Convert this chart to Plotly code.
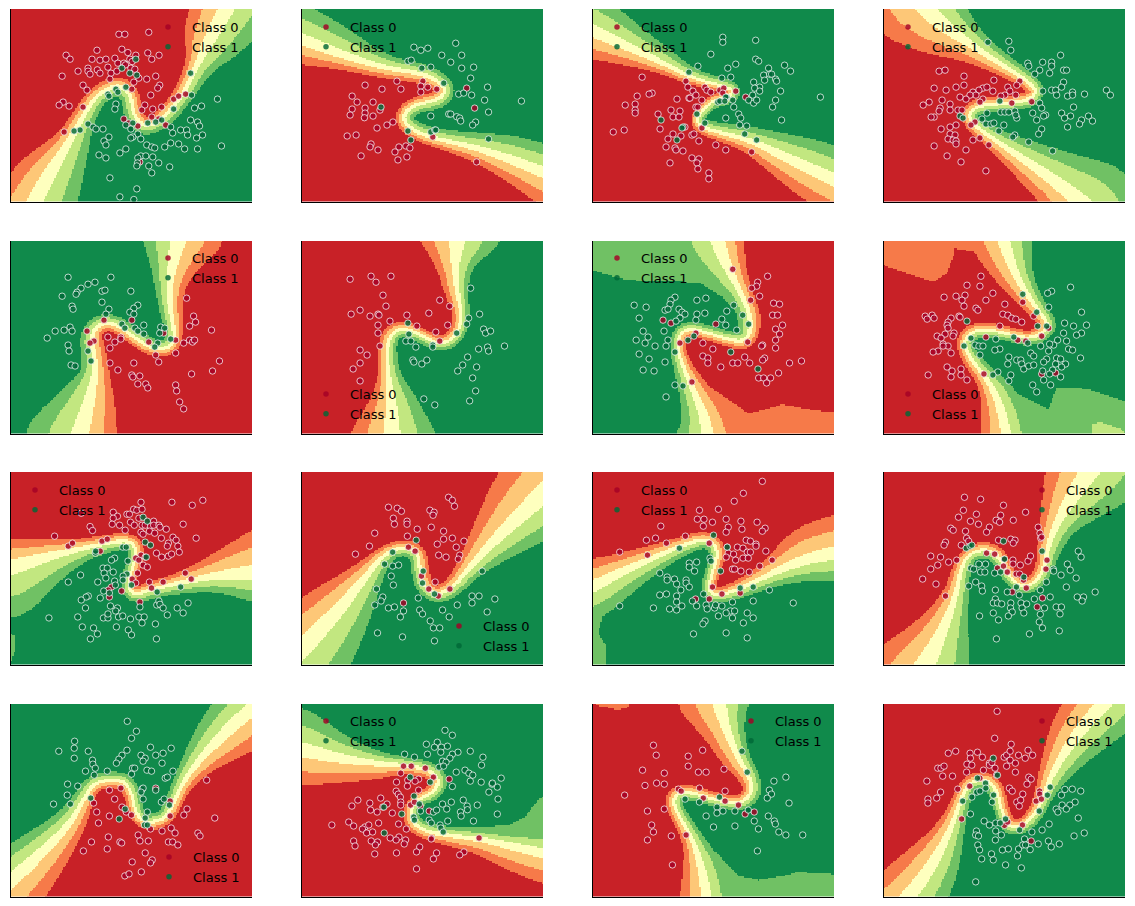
import numpy as np
import plotly.graph_objects as go

BAND_COLORS = ["#c82127", "#f67a49", "#fdc777", "#feffbe", "#c2e780", "#70c164", "#108a4b"]
SERIES = ["Class 0", "Class 1"]
DOT_COLORS = ["rgba(165,0,38,0.82)", "rgba(0,104,55,0.82)"]

FRAME_S = (30, 756)
FRAME_A = (30, 716)
FRAME_B = (855, 1541)

# decision boundary centre line: (x, y, band width on class 0 side, band width on class 1 side)
P1_LINE = [(85,640,43,50),(98,606,43,50),(150,510,32,40),(200,430,14,26),(240,360,10,14),(280,295,9,10),(320,265,8,10),(360,255,8,10),(392,285,8,10),(398,340,8,9),(425,378,7,9),(470,368,8,9),(510,330,8,10),(550,280,9,10),(590,190,10,18),(620,130,30,35),(675,27,40,50),(690,0,40,50)]
P1_RED = [(690,-300),(-300,-300),(-300,640)]
P1_PATCH = []
P1_C0 = [(355,103),(373,103),(445,97),(196,166),(208,178),(289,151),(364,148),(382,158),(406,166),(442,159),(454,178),(476,166),(274,178),(298,181),(316,178),(343,175),(352,190),(370,190),(388,178),(395,185),(375,195),(391,205),(403,208),(322,202),(232,214),(262,205),(262,214),(268,223),(290,210),(298,220),(331,220),(349,214),(184,229),(328,238),(415,235),(400,247),(439,238),(466,229),(247,256),(259,271),(394,268),(478,256),(472,265),(451,286),(187,307),(175,316),(205,319),(247,322),(433,316),(424,331),(457,328),(484,322),(520,298),(535,289),(556,283),(454,352),(370,358),(385,370),(412,379),(475,358),(496,376),(190,397),(418,487)]
P1_C1 = [(406,178),(364,205),(388,220),(409,226),(571,220),(376,262),(346,268),(352,277),(322,283),(325,289),(574,286),(652,298),(346,313),(343,328),(583,325),(604,319),(520,328),(571,361),(592,367),(598,379),(397,370),(376,376),(391,388),(442,370),(466,367),(484,361),(511,382),(262,373),(277,382),(286,388),(307,388),(238,391),(220,394),(541,391),(559,391),(562,406),(517,400),(607,406),(589,415),(412,403),(397,412),(391,415),(421,418),(325,412),(310,424),(316,436),(439,436),(454,442),(463,445),(493,442),(511,430),(535,433),(553,448),(592,448),(664,439),(376,448),(358,460),(295,466),(316,475),(421,469),(436,469),(457,472),(412,475),(475,490),(411,490),(409,499),(445,499),(508,502),(454,520),(328,535),(409,568),(358,592),(400,600)]

P2_LINE = [(-20,105,28,38),(30,120,28,38),(150,168,14,30),(280,205,10,12),(400,222,9,10),(455,255,8,9),(462,280,8,9),(430,302,7,9),(375,312,7,8),(335,340,7,9),(340,372,7,9),(385,402,7,9),(470,425,9,11),(560,445,14,17),(660,480,22,28),(770,520,35,30)]
P2_RED = [(770,900),(-300,900)]
P2_PATCH = []
P2_C0 = [(316,244),(394,244),(220,256),(271,268),(328,268),(388,259),(409,262),(436,268),(388,277),(181,289),(196,307),(244,307),(220,325),(181,328),(265,331),(220,340),(175,346),(244,349),(218,354),(304,367),(286,376),(256,385),(166,409),(193,406),(424,412),(238,433),(235,442),(259,451),(322,442),(343,439),(355,445),(310,457),(208,469),(346,472),(319,481),(556,487),(526,265),(550,325)]
P2_C1 = [(367,142),(388,151),(409,145),(493,130),(451,166),(511,166),(478,187),(349,184),(359,181),(391,205),(418,202),(511,205),(547,202),(538,235),(457,250),(589,262),(502,283),(517,280),(541,286),(580,301),(691,304),(268,322),(592,337),(418,349),(472,343),(478,343),(496,351),(505,355),(508,364),(553,367),(544,376),(349,394),(418,397),(430,391),(433,391),(358,421),(592,418)]

P3_LINE = [(-20,75,32,40),(30,95,32,40),(130,140,20,28),(240,190,10,16),(330,235,6,8),(425,260,5,7),(452,270,5,7),(440,290,5,7),(395,300,5,6),(360,330,5,6),(340,360,5,6),(358,382,6,7),(420,400,8,10),(500,420,12,14),(590,462,22,24),(680,505,32,34),(770,545,38,36)]
P3_RED = [(770,900),(-300,900)]
P3_PATCH = []
P3_C0 = [(178,232),(310,244),(316,262),(367,262),(373,271),(385,277),(412,271),(424,265),(421,280),(331,274),(340,286),(460,274),(490,292),(208,280),(199,283),(163,289),(283,298),(319,295),(322,295),(358,301),(127,316),(157,313),(157,331),(157,340),(265,331),(292,334),(340,322),(346,322),(226,343),(271,352),(289,352),(232,388),(91,397),(124,391),(307,382),(358,385),(271,403),(256,418),(295,409),(328,406),(334,403),(349,424),(250,442),(277,445),(280,451),(301,454),(400,436),(430,451),(508,457),(328,475),(349,478),(343,490),(262,490),(346,508),(379,520),(379,538)]
P3_C1 = [(421,112),(421,127),(520,121),(385,163),(520,178),(529,184),(460,193),(436,205),(346,199),(607,196),(625,214),(559,205),(544,226),(562,223),(568,223),(319,217),(418,235),(445,232),(547,241),(580,238),(583,244),(514,247),(532,262),(517,265),(532,274),(595,274),(511,286),(580,301),(715,292),(433,292),(430,292),(451,301),(406,307),(412,304),(427,304),(499,301),(514,310),(523,301),(454,322),(571,322),(343,343),(469,343),(475,355),(430,355),(598,361),(235,361),(367,370),(472,376),(493,379),(301,382),(298,385),(487,403),(283,421),(523,421)]

P4_LINE = [(130,-10,58,50),(160,27,55,48),(200,70,40,38),(300,140,18,16),(400,205,9,11),(465,245,7,8),(490,275,7,8),(468,300,7,7),(400,310,6,7),(320,315,7,7),(283,340,7,7),(300,375,7,8),(370,425,10,12),(460,485,20,24),(550,550,28,40),(620,610,38,60),(650,640,38,60)]
P4_RED = [(650,900),(-300,900),(-300,-10)]
P4_PATCH = []
P4_C0 = [(196,214),(214,211),(271,229),(361,241),(439,244),(430,256),(247,262),(271,256),(181,265),(217,271),(328,265),(340,262),(316,271),(358,274),(403,262),(409,274),(394,286),(382,289),(427,286),(298,277),(307,286),(289,286),(259,292),(205,301),(166,307),(148,316),(229,313),(277,298),(328,298),(319,307),(415,310),(475,306),(199,325),(196,334),(229,331),(253,331),(265,331),(181,352),(172,352),(304,367),(292,376),(247,376),(229,382),(202,388),(229,403),(244,406),(223,418),(238,421),(247,424),(247,433),(298,421),(319,415),(346,436),(181,439),(277,451),(220,469),(262,487),(337,514)]
P4_C1 = [(343,127),(406,124),(412,151),(562,166),(508,187),(535,187),(535,199),(463,190),(466,199),(499,211),(484,223),(529,220),(571,211),(580,211),(571,247),(565,262),(535,271),(547,271),(508,274),(550,286),(583,289),(598,277),(598,286),(634,283),(700,271),(712,286),(379,304),(499,310),(505,325),(601,322),(424,334),(340,340),(382,337),(394,337),(406,337),(478,340),(565,340),(592,349),(574,355),(517,346),(511,349),(430,355),(427,346),(646,349),(658,364),(625,361),(619,373),(490,361),(259,349),(268,355),(325,358),(337,373),(352,373),(361,370),(391,376),(583,382),(505,388),(376,394),(496,403),(424,406),(418,412),(466,427),(538,454)]

P5_LINE = [(545,-10,48,45),(532,27,48,45),(515,100,28,25),(505,170,16,14),(510,240,12,10),(522,300,8,8),(518,335,7,8),(490,352,7,8),(445,345,7,8),(400,315,7,8),(360,285,7,8),(320,270,7,8),(285,285,8,9),(272,320,11,12),(280,365,12,12),(285,420,14,14),(270,500,28,35),(243,606,42,62),(235,640,42,62)]
P5_RED = [(235,900),(1100,900),(1100,-10)]
P5_PATCH = []
P5_C0 = [(310,265),(394,265),(259,298),(559,199),(580,253),(586,271),(568,283),(634,295),(490,304),(322,316),(361,316),(361,322),(343,331),(328,349),(280,328),(268,334),(445,331),(526,325),(550,334),(568,325),(577,331),(583,325),(526,364),(466,370),(475,391),(328,394),(400,394),(352,415),(658,388),(637,418),(574,427),(394,430),(397,436),(418,433),(412,457),(436,457),(442,469),(526,460),(529,478),(538,511),(550,532)]
P5_C1 = [(202,136),(331,136),(283,151),(262,157),(241,169),(229,181),(226,187),(184,193),(304,178),(313,175),(391,178),(304,211),(214,223),(217,232),(325,232),(412,220),(400,229),(388,241),(400,247),(316,247),(364,277),(373,289),(403,289),(412,298),(430,280),(430,307),(481,286),(493,289),(478,304),(190,295),(208,286),(214,298),(163,298),(139,319),(202,340),(205,358),(262,358),(271,388),(211,400),(223,403),(511,322),(472,334),(463,346)]

P6_LINE = [(498,-10,46,50),(496,27,46,50),(490,100,20,20),(498,180,13,9),(510,240,8,8),(505,290,7,7),(480,325,7,7),(440,335,6,7),(400,315,6,7),(360,295,6,7),(320,290,7,7),(290,320,9,8),(285,380,8,10),(290,440,10,14),(300,520,28,32),(300,606,48,52),(300,640,48,52)]
P6_RED = [(300,900),(-300,900),(-300,-10)]
P6_PATCH = []
P6_C0 = [(175,142),(238,133),(253,151),(298,133),(274,190),(445,205),(475,223),(283,223),(205,235),(178,247),(235,253),(259,247),(262,250),(346,250),(412,244),(295,268),(259,280),(376,283),(469,280),(259,304),(433,301),(445,328),(265,343),(205,355),(226,370),(205,394),(184,412),(205,448)]
P6_C1 = [(538,169),(532,259),(565,247),(526,277),(349,274),(352,307),(496,304),(577,292),(583,304),(598,298),(343,328),(358,328),(373,346),(424,340),(424,346),(562,352),(589,346),(592,358),(640,343),(529,376),(364,385),(367,391),(391,397),(406,385),(514,400),(499,418),(556,406),(544,439),(553,478),(535,508),(397,502),(430,520)]

P7_LINE = [(405,-10,30,53),(410,27,30,53),(440,110,18,30),(478,190,11,10),(505,250,10,14),(505,305,8,11),(480,330,8,8),(430,320,6,7),(380,305,6,7),(330,290,6,6),(295,300,7,7),(283,345,7,7),(300,400,8,9),(330,470,15,14),(365,550,28,26),(375,606,35,38),(380,640,35,38)]
P7_RED = [(380,900),(1100,900),(1100,-10)]
P7_PATCH = [([(0,0),(30,115),(130,145),(350,152),(420,195),(460,240),(500,240),(500,0)],6,5),([(345,440),(420,490),(500,545),(600,517),(700,535),(800,545),(800,650),(345,650)],0,1)]
P7_C0 = [(451,112),(556,133),(526,151),(523,163),(508,169),(532,193),(505,205),(574,214),(592,217),(571,250),(586,250),(601,280),(580,292),(592,307),(241,265),(265,274),(400,277),(340,304),(292,334),(361,334),(496,331),(580,325),(541,340),(538,343),(580,349),(391,352),(361,373),(376,379),(376,394),(487,376),(547,379),(541,385),(622,394),(658,388),(415,406),(451,394),(466,394),(502,394),(589,424),(529,439),(544,439),(565,439),(553,454),(328,451)]
P7_C1 = [(277,196),(265,205),(262,217),(154,220),(190,226),(343,205),(370,199),(247,235),(256,232),(289,232),(298,241),(307,247),(343,247),(367,244),(454,220),(433,238),(481,250),(169,259),(292,259),(280,268),(340,265),(418,262),(430,280),(499,277),(244,298),(463,295),(181,298),(196,316),(160,325),(187,334),(256,325),(217,343),(250,343),(316,325),(334,313),(277,361),(445,361),(169,367),(199,382),(247,391),(181,415),(214,418),(527,412),(277,460),(301,463),(250,496)]

P8_LINE = [(385,-10,37,35),(390,27,37,35),(420,110,25,20),(450,170,16,14),(490,230,9,9),(525,275,8,8),(515,300,7,7),(470,320,6,7),(420,310,6,6),(360,295,6,6),(300,295,7,7),(268,330,7,7),(290,380,8,8),(340,440,10,12),(375,510,18,25),(400,606,30,28),(400,640,30,28)]
P8_RED = [(400,900),(-300,900),(-300,-10)]
P8_PATCH = [([(0,100),(30,100),(100,125),(180,150),(220,125),(240,70),(240,50),(300,60),(345,80),(400,100),(400,0),(0,0)],0,1),([(350,430),(430,485),(525,532),(550,465),(640,470),(760,510),(800,520),(800,650),(350,650)],6,5),([(655,575),(680,570),(740,590),(756,606),(655,610)],5,4)]
P8_C0 = [(322,133),(280,160),(319,163),(211,196),(247,193),(274,190),(265,205),(271,223),(358,184),(337,205),(307,229),(313,235),(394,217),(448,211),(154,253),(160,262),(175,250),(181,259),(232,259),(256,253),(259,256),(388,247),(403,250),(415,259),(427,262),(445,271),(481,253),(223,271),(220,280),(223,289),(379,283),(241,304),(238,313),(214,307),(190,313),(202,319),(208,337),(223,343),(208,343),(193,358),(178,361),(232,364),(337,316),(433,325),(457,328),(505,313),(526,289),(220,406),(235,418),(262,412),(262,430),(232,436),(280,445),(163,430),(331,427),(505,427),(547,424)]
P8_C1 = [(448,187),(592,166),(535,178),(523,184),(526,226),(490,241),(625,241),(280,268),(493,283),(520,283),(574,274),(601,283),(640,280),(571,304),(625,304),(610,310),(292,319),(367,322),(421,316),(463,334),(271,343),(304,340),(316,343),(328,343),(580,328),(553,325),(541,340),(529,337),(502,343),(526,358),(379,352),(364,355),(586,352),(598,355),(319,370),(622,379),(406,376),(403,397),(430,385),(442,385),(445,397),(451,412),(466,403),(481,400),(472,364),(481,373),(520,382),(511,391),(550,379),(562,382),(547,397),(577,397),(565,406),(373,421),(358,430),(412,430),(406,448),(508,418),(538,415),(529,427),(562,436),(511,445),(532,460),(478,460),(490,481)]

P9_LINE = [(-10,310,30,60),(30,307,30,60),(120,280,18,38),(220,258,9,15),(300,240,7,9),(360,232,7,8),(385,250,7,7),(385,290,6,6),(370,330,6,6),(362,375,6,6),(385,395,6,8),(440,375,7,9),(500,362,9,10),(580,345,18,14),(650,335,32,22),(716,332,50,32),(750,330,50,32)]
P9_RED = [(750,-300),(-300,-300),(-300,310)]
P9_PATCH = [([(30,510),(45,520),(40,570),(30,600),(10,610),(10,510)],6,5)]
P9_C0 = [(230,151),(255,191),(262,203),(154,220),(321,148),(333,160),(360,154),(367,154),(379,139),(388,142),(403,139),(400,118),(488,118),(546,127),(576,112),(321,166),(318,184),(339,187),(355,202),(370,178),(381,187),(394,166),(403,187),(412,187),(427,190),(436,175),(436,187),(424,205),(439,211),(451,187),(454,193),(472,199),(520,184),(400,208),(406,214),(458,226),(491,223),(500,232),(557,226),(478,241),(475,250),(505,250),(289,235),(304,229),(193,250),(205,241),(284,265),(444,271),(459,283),(478,280),(487,274),(509,268),(400,277),(385,286),(394,292),(412,283),(406,307),(418,313),(390,331),(526,331),(543,349),(375,349),(385,361),(424,358),(463,358),(430,376),(345,385),(316,373),(307,382),(310,403),(397,418)]
P9_C1 = [(406,163),(418,175),(412,238),(427,247),(348,253),(358,253),(270,271),(271,265),(415,283),(325,286),(316,292),(363,295),(292,316),(304,316),(295,331),(321,328),(228,337),(360,334),(300,346),(349,340),(193,358),(277,358),(325,355),(349,352),(327,367),(373,367),(513,373),(294,385),(446,388),(310,391),(250,400),(244,403),(284,406),(230,412),(242,436),(313,430),(333,436),(328,445),(397,433),(445,427),(451,415),(454,425),(463,436),(475,457),(503,436),(520,451),(534,421),(138,466),(220,463),(293,466),(306,466),(306,454),(336,463),(348,460),(370,469),(394,463),(409,463),(403,481),(441,484),(233,493),(265,496),(330,493),(364,502),(373,517),(276,514),(256,529),(444,529)]

P10_LINE = [(800,605,46,62),(855,550,46,62),(960,440,35,38),(1040,335,15,17),(1090,272,7,8),(1140,252,7,7),(1185,268,8,7),(1190,320,8,7),(1200,370,8,7),(1240,397,7,8),(1285,372,8,9),(1330,315,12,12),(1400,235,28,25),(1470,165,45,38),(1541,95,57,49),(1610,25,57,49)]
P10_RED = [(1610,-300),(500,-300),(500,605)]
P10_PATCH = []
P10_C0 = [(1272,103),(1283,112),(1289,130),(1101,133),(1126,136),(1138,145),(1219,142),(1231,148),(1228,157),(1115,166),(1118,184),(1154,175),(1154,184),(1223,193),(1183,199),(1258,205),(1062,211),(1155,220),(1258,229),(1283,226),(1316,235),(1240,244),(1047,250),(1158,253),(1294,253),(1177,265),(1007,274),(1244,277),(1265,283),(1304,277),(1300,289),(1195,340),(1234,358),(1276,379),(1216,379),(1243,400),(1144,421)]
P10_C1 = [(1180,232),(1113,268),(1090,304),(1113,310),(1130,307),(1368,325),(1200,325),(1109,340),(1198,361),(1115,367),(1067,379),(1232,394),(1339,400),(1359,400),(1339,421),(1404,409),(1085,403),(1080,415),(1186,406),(1062,427),(1101,436),(1118,433),(1297,427),(1144,445),(1190,442),(1198,454),(1255,442),(1382,448),(1135,463),(1274,463),(1220,475),(1229,496),(1247,496),(1070,511),(1141,523),(1232,535)]

P11_LINE = [(-10,385,32,35),(30,370,32,35),(120,320,18,25),(210,280,12,15),(276,250,8,10),(340,228,7,8),(375,240,7,7),(385,275,7,6),(372,320,6,6),(358,375,6,6),(375,400,6,7),(430,385,7,8),(500,350,10,12),(560,322,20,15),(640,290,38,24),(716,272,42,33),(760,260,42,33)]
P11_RED = [(760,-300),(-300,-300),(-300,385)]
P11_PATCH = [([(20,450),(60,450),(45,510),(70,550),(70,610),(20,610)],6,5)]
P11_C0 = [(512,55),(458,91),(432,115),(387,139),(333,142),(327,169),(346,169),(370,178),(409,169),(451,175),(497,178),(344,190),(415,193),(454,199),(520,196),(512,205),(409,208),(223,190),(293,220),(208,226),(182,232),(239,241),(361,241),(412,253),(466,232),(478,235),(494,244),(494,250),(106,268),(185,277),(415,271),(430,274),(441,253),(457,256),(469,268),(478,268),(522,265),(409,283),(436,292),(457,286),(472,286),(540,292),(505,310),(427,319),(433,319),(451,325),(475,328),(370,373),(397,394),(449,391),(361,409),(322,409)]
P11_C1 = [(373,217),(412,253),(276,256),(363,286),(366,295),(304,301),(325,298),(304,313),(319,325),(220,331),(393,325),(241,343),(241,352),(262,349),(295,352),(295,361),(268,364),(304,373),(280,382),(220,397),(239,394),(268,400),(449,376),(486,373),(532,382),(345,394),(268,418),(106,430),(202,436),(248,439),(268,442),(283,430),(313,415),(325,430),(352,427),(355,439),(376,436),(379,427),(397,430),(427,418),(486,415),(600,421),(421,445),(433,445),(469,451),(409,451),(387,460),(427,466),(486,466),(458,481),(349,475),(343,484),(316,514),(409,511),(469,526)]

P12_LINE = [(945,640,50,60),(970,606,50,60),(1020,510,30,30),(1060,400,12,12),(1075,310,7,8),(1100,272,7,7),(1140,258,7,7),(1180,275,7,7),(1205,330,6,6),(1240,370,6,6),(1280,365,7,7),(1310,320,7,8),(1320,250,9,14),(1345,180,17,20),(1390,100,35,40),(1435,27,48,57),(1470,-20,48,57)]
P12_RED = [(1470,-300),(500,-300),(500,640)]
P12_PATCH = []
P12_C0 = [(1084,103),(1130,109),(1195,127),(1081,142),(1067,163),(1118,154),(1187,157),(1258,148),(1174,172),(1184,178),(1223,172),(1101,175),(1124,184),(1155,193),(1045,196),(1052,202),(1147,208),(1087,205),(1294,193),(1299,211),(1301,226),(1030,238),(1026,247),(1090,226),(1096,235),(1075,247),(1181,232),(1216,229),(1228,232),(1223,241),(1304,223),(988,280),(1016,283),(1039,298),(1062,292),(1008,307),(988,319),(965,349),(1003,364),(1030,400),(1147,271),(1170,274),(1197,289),(1222,292),(1222,304),(1243,307),(1265,295),(1272,280),(1195,310),(1178,316),(1206,328),(1231,334),(1241,334),(1319,292),(1316,319),(1252,352),(1260,376),(1220,388),(1306,406),(1291,433)]
P12_C1 = [(1195,235),(1089,256),(1100,250),(1105,247),(1305,265),(1125,304),(1144,304),(1198,289),(1102,316),(1110,319),(1130,328),(1142,328),(1170,331),(1187,328),(1337,319),(1338,325),(1408,265),(1416,283),(1377,304),(1385,322),(1359,337),(1402,346),(1116,358),(1253,343),(1317,358),(1096,370),(1133,370),(1135,385),(1232,373),(1300,382),(1374,373),(1456,388),(1172,382),(1206,388),(1240,397),(1328,403),(1283,409),(1405,403),(1423,403),(1419,415),(1172,409),(1166,421),(1178,421),(1190,424),(1216,421),(1245,421),(1261,424),(1312,436),(1345,433),(1360,433),(1215,436),(1248,436),(1253,451),(1220,448),(1166,451),(1127,460),(1209,460),(1181,472),(1300,455),(1356,454),(1297,478),(1306,496),(1269,514),(1354,505),(1175,529)]

P13_LINE = [(-10,590,43,35),(30,555,43,35),(120,470,30,26),(200,385,16,16),(240,310,8,10),(265,265,7,8),(310,255,7,8),(355,260,7,8),(375,300,6,7),(385,360,6,7),(420,385,7,7),(470,370,7,7),(495,320,7,8),(520,260,9,9),(570,190,18,18),(640,110,35,30),(716,40,40,38),(760,-5,40,38)]
P13_RED = [(1000,-5),(1000,900),(-10,900)]
P13_PATCH = []
P13_C0 = [(310,286),(343,280),(265,325),(325,313),(274,352),(310,364),(346,337),(358,352),(373,361),(279,385),(427,403),(460,409),(486,400),(497,415),(483,364),(522,361),(531,343),(483,319),(562,415),(568,424),(610,370),(587,256),(442,280),(259,442),(307,427),(340,442),(345,445),(392,421),(397,439),(421,439),(478,442),(490,442),(505,451),(236,469),(304,463),(412,475),(432,496),(427,505),(375,502),(401,532),(354,544),(366,538)]
P13_C1 = [(361,79),(387,109),(373,130),(211,139),(210,160),(166,169),(250,169),(360,166),(427,157),(486,160),(463,175),(442,181),(210,190),(262,196),(263,208),(270,220),(242,229),(267,241),(304,229),(346,181),(337,193),(330,205),(400,181),(412,190),(406,199),(460,205),(376,220),(382,220),(417,226),(430,229),(373,238),(469,250),(475,247),(491,229),(191,268),(220,274),(190,301),(151,328),(199,328),(257,310),(403,283),(406,280),(400,292),(442,286),(406,313),(458,322),(466,313),(481,331),(355,343),(418,352),(412,370),(338,373),(410,391),(418,391)]

P14_LINE = [(800,155,42,46),(855,165,42,46),(960,190,28,26),(1070,205,17,11),(1150,212,7,8),(1220,225,7,8),(1248,260,7,8),(1225,295,6,7),(1190,310,6,6),(1165,340,6,6),(1165,375,7,7),(1195,405,7,8),(1260,420,9,8),(1360,430,16,9),(1450,450,27,14),(1541,472,33,25),(1600,490,33,25)]
P14_RED = [(1600,900),(500,900),(500,155)]
P14_PATCH = [([(1590,290),(1530,310),(1490,365),(1440,392),(1300,395),(1300,480),(1590,480)],6,5)]
P14_C0 = [(1144,214),(1166,214),(1206,220),(1229,247),(1274,253),(1136,235),(1187,253),(1177,259),(1156,256),(1124,262),(1155,274),(1187,286),(1123,289),(1129,298),(1135,307),(1014,316),(1048,325),(997,334),(1079,310),(1097,328),(1085,337),(1136,322),(1136,331),(1164,331),(1175,322),(1050,346),(1069,352),(1112,355),(1192,334),(1217,349),(1130,388),(1073,385),(988,382),(1002,394),(940,391),(1034,397),(1045,391),(1027,403),(1039,415),(1056,412),(1152,403),(1224,430),(1223,433),(1359,430),(1106,430),(1131,427),(1123,436),(1150,436),(1002,439),(1006,454),(1052,439),(1070,442),(1064,451),(1146,448),(1190,457),(1181,472),(1238,475),(1229,493),(1062,478),(1124,475),(1316,472),(1304,481),(1181,523)]
P14_C1 = [(1262,106),(1283,121),(1209,148),(1240,142),(1252,157),(1269,154),(1232,157),(1299,172),(1334,169),(1250,172),(1147,178),(1175,187),(1212,178),(1283,178),(1276,190),(1370,187),(1366,211),(1255,199),(1265,202),(1245,217),(1258,214),(1319,226),(1294,232),(1330,235),(1341,241),(1163,247),(1220,262),(1334,259),(1365,262),(1396,268),(1422,250),(1411,277),(1387,292),(1397,265),(1174,304),(1283,275),(1314,316),(1413,313),(1189,328),(1255,328),(1280,322),(1325,334),(1326,345),(1354,331),(1192,349),(1229,352),(1238,346),(1267,343),(1306,352),(1308,364),(1411,358),(1139,358),(1173,367),(1175,376),(1217,376),(1223,385),(1270,379),(1343,379),(1089,415),(1088,337),(1248,391),(1250,400),(1257,412)]

P15_LINE = [(390,-10,45,32),(392,27,45,32),(410,100,26,18),(440,180,18,10),(478,250,9,9),(482,295,7,9),(450,325,6,7),(400,320,6,6),(350,305,6,6),(300,290,7,7),(262,300,7,7),(260,335,7,7),(290,390,7,8),(320,450,10,12),(340,530,20,25),(355,606,30,25),(358,640,30,25)]
P15_RED = [(358,900),(-300,900),(-300,-10)]
P15_PATCH = [([(380,470),(440,540),(500,555),(580,540),(610,530),(760,540),(760,650),(380,650)],6,5),([(35,20),(135,20),(130,38),(100,45),(70,38),(40,32)],0,1)]
P15_C0 = [(202,151),(210,181),(301,184),(342,166),(301,214),(171,226),(233,235),(330,232),(352,232),(403,223),(178,272),(211,265),(233,268),(273,283),(281,289),(333,280),(120,301),(406,289),(344,310),(406,319),(444,331),(185,349),(233,343),(463,358),(489,352),(197,391),(202,412),(185,436),(253,424),(295,421),(256,511)]
P15_C1 = [(454,169),(469,232),(579,247),(545,259),(532,286),(538,298),(526,310),(390,307),(292,313),(333,322),(383,337),(383,355),(400,349),(434,349),(472,346),(588,325),(352,364),(529,364),(489,379),(546,379),(549,388),(373,397),(434,394),(501,403),(559,412),(579,421),(627,421),(498,469)]

P16_LINE = [(890,640,41,42),(925,606,41,42),(1000,500,30,28),(1050,390,12,12),(1075,310,7,8),(1095,265,7,7),(1140,250,7,7),(1175,280,7,7),(1190,350,6,6),(1215,400,6,7),(1255,390,6,7),(1290,350,7,7),(1310,300,8,8),(1340,220,15,18),(1400,120,30,32),(1478,27,38,42),(1520,-25,38,42)]
P16_RED = [(1520,-300),(500,-300),(500,640)]
P16_PATCH = []
P16_C0 = [(1177,49),(1170,130),(1217,148),(1038,175),(1059,169),(1100,175),(1101,190),(1121,172),(1135,187),(1197,187),(1204,181),(1214,169),(1238,181),(1257,190),(1278,181),(1265,166),(1091,208),(1105,211),(1155,205),(1155,211),(1162,203),(1214,196),(1204,214),(1229,205),(1171,220),(1008,220),(1017,220),(1026,214),(1022,244),(1050,244),(1090,232),(1138,226),(1229,232),(1175,241),(977,259),(1267,247),(1274,253),(1262,268),(1128,250),(1099,274),(1065,283),(1016,292),(1005,310),(980,313),(980,325),(1212,280),(1220,289),(1250,298),(1298,289),(1298,298),(1288,319),(1303,313),(1233,322),(1244,316),(1240,334),(1076,373),(1198,392),(1207,382),(1249,391),(1274,439)]
P16_C1 = [(1166,190),(1178,241),(1121,250),(1144,265),(1328,277),(1320,301),(1119,292),(1128,289),(1105,307),(1145,280),(1167,301),(1079,319),(1163,322),(1360,301),(1391,283),(1415,289),(1370,284),(1399,322),(1384,331),(1362,331),(1374,343),(1345,343),(1350,352),(1297,349),(1408,370),(1101,358),(1140,379),(1155,391),(1173,385),(1186,385),(1201,373),(1325,388),(1173,409),(1241,406),(1305,406),(1276,412),(1425,415),(1396,424),(1118,409),(1116,421),(1124,424),(1189,421),(1172,436),(1255,433),(1323,439),(1354,448),(1122,451),(1127,466),(1294,448),(1331,457),(1192,466),(1209,463),(1238,463),(1250,451),(1258,451),(1271,465),(1235,484),(1161,478),(1166,496),(1133,493),(1201,511),(1246,520),(1116,562)]

PANELS = [
    (FRAME_S, P1_LINE, P1_RED, P1_PATCH, P1_C0, P1_C1), (FRAME_S, P2_LINE, P2_RED, P2_PATCH, P2_C0, P2_C1),
    (FRAME_S, P3_LINE, P3_RED, P3_PATCH, P3_C0, P3_C1), (FRAME_S, P4_LINE, P4_RED, P4_PATCH, P4_C0, P4_C1),
    (FRAME_S, P5_LINE, P5_RED, P5_PATCH, P5_C0, P5_C1), (FRAME_S, P6_LINE, P6_RED, P6_PATCH, P6_C0, P6_C1),
    (FRAME_S, P7_LINE, P7_RED, P7_PATCH, P7_C0, P7_C1), (FRAME_S, P8_LINE, P8_RED, P8_PATCH, P8_C0, P8_C1),
    (FRAME_A, P9_LINE, P9_RED, P9_PATCH, P9_C0, P9_C1), (FRAME_B, P10_LINE, P10_RED, P10_PATCH, P10_C0, P10_C1),
    (FRAME_A, P11_LINE, P11_RED, P11_PATCH, P11_C0, P11_C1), (FRAME_B, P12_LINE, P12_RED, P12_PATCH, P12_C0, P12_C1),
    (FRAME_A, P13_LINE, P13_RED, P13_PATCH, P13_C0, P13_C1), (FRAME_B, P14_LINE, P14_RED, P14_PATCH, P14_C0, P14_C1),
    (FRAME_A, P15_LINE, P15_RED, P15_PATCH, P15_C0, P15_C1), (FRAME_B, P16_LINE, P16_RED, P16_PATCH, P16_C0, P16_C1),
]

W, H = 1135, 906
COL_LEFT = [11, 302, 593, 884]
COL_RIGHT = [252, 543, 834, 1125]
ROW_TOP = [9, 241, 472, 704]
ROW_BOTTOM = [201.5, 433.5, 664.5, 896.5]
LEGEND_AT = [(168,28),(326,28),(617,28),(908,28),(168,259),(326,395),(617,259),(908,395),
             (35,491),(459,627),(617,491),(1042,491),(169,858),(326,722),(751,722),(1042,722)]
NX, NY = 161, 129
Y_FRAME = (27, 606)
WIDTH_PAD = 2.5


def inside(gx, gy, poly):
    poly = np.asarray(poly, float)
    res = np.zeros(gx.shape, bool)
    x1, y1 = poly[:, 0], poly[:, 1]
    x2, y2 = np.roll(x1, -1), np.roll(y1, -1)
    for a, b, c, d in zip(x1, y1, x2, y2):
        if b == d:
            continue
        cross = ((b > gy) != (d > gy)) & (gx < (c - a) * (gy - b) / (d - b) + a)
        res ^= cross
    return res


def rounded(line, passes=3):
    arr = np.array(line, float)
    for _ in range(passes):
        q = 0.75 * arr[:-1] + 0.25 * arr[1:]
        r = 0.25 * arr[:-1] + 0.75 * arr[1:]
        mid = np.empty((2 * len(q), 4))
        mid[0::2], mid[1::2] = q, r
        arr = np.vstack([arr[:1], mid, arr[-1:]])
    return arr


def bands(frame, line, red, patches):
    dx = (frame[1] - frame[0]) / NX
    dy = (Y_FRAME[1] - Y_FRAME[0]) / NY
    xs = frame[0] + dx * (np.arange(NX) + 0.5)
    ys = Y_FRAME[0] + dy * (np.arange(NY) + 0.5)
    gx, gy = np.meshgrid(xs, ys)
    arr = rounded(line)
    best = np.full(gx.shape, np.inf)
    wr = np.zeros(gx.shape)
    wg = np.zeros(gx.shape)
    for p, q in zip(arr[:-1], arr[1:]):
        vx, vy = q[0] - p[0], q[1] - p[1]
        t = np.clip(((gx - p[0]) * vx + (gy - p[1]) * vy) / (vx * vx + vy * vy + 1e-9), 0, 1)
        d = np.hypot(gx - p[0] - t * vx, gy - p[1] - t * vy)
        m = d < best
        best[m] = d[m]
        wr[m] = (p[2] + t * (q[2] - p[2]))[m]
        wg[m] = (p[3] + t * (q[3] - p[3]))[m]
    is_red = inside(gx, gy, [tuple(v[:2]) for v in arr] + list(red))
    level = np.floor(best / (np.where(is_red, wr, wg) + WIDTH_PAD) + 0.5).clip(0, 3)
    z = np.where(is_red, 3 - level, 3 + level)
    for poly, src, dst in patches:
        z[(z == src) & inside(gx, gy, poly)] = dst
    return xs, ys, z


n = len(BAND_COLORS)
scale = []
for i, c in enumerate(BAND_COLORS):
    scale += [[i / n, c], [(i + 1) / n, c]]

fig = go.Figure()
layout = {}
for i, (frame, line, red, patches, c0, c1) in enumerate(PANELS):
    k = i + 1
    r, c = i // 4, i % 4
    xa, ya = f"x{k}", f"y{k}"
    common = dict(showticklabels=False, ticks="", showgrid=False, zeroline=False,
                  showline=True, linecolor="black", linewidth=1, mirror=False)
    layout[f"xaxis{k}"] = dict(domain=[COL_LEFT[c] / W, COL_RIGHT[c] / W], range=list(frame), anchor=ya, **common)
    layout[f"yaxis{k}"] = dict(domain=[1 - ROW_BOTTOM[r] / H, 1 - ROW_TOP[r] / H], range=[Y_FRAME[1], Y_FRAME[0]], anchor=xa, **common)
    xs, ys, z = bands(frame, line, red, patches)
    fig.add_trace(go.Heatmap(x=xs, y=ys, z=z, zmin=0, zmax=6, colorscale=scale, showscale=False,
                             hoverinfo="skip", xaxis=xa, yaxis=ya))
    lname = "legend" if k == 1 else f"legend{k}"
    for name, col, pts in zip(SERIES, DOT_COLORS, (c0, c1)):
        fig.add_trace(go.Scatter(x=[p[0] for p in pts], y=[p[1] for p in pts], mode="markers", name=name,
                                 showlegend=False, xaxis=xa, yaxis=ya, cliponaxis=True,
                                 marker=dict(size=6.4, color=col, line=dict(color="rgba(255,255,255,0.72)", width=1))))
        fig.add_trace(go.Scatter(x=[None], y=[None], mode="markers", name=name, legend=lname,
                                 xaxis=xa, yaxis=ya, marker=dict(size=5.5, color=col)))
    mx, my = LEGEND_AT[i]
    layout[lname] = dict(x=(mx - 24) / W, y=1 - (my - 16) / H, xanchor="left", yanchor="top",
                         bgcolor="rgba(0,0,0,0)", borderwidth=0, tracegroupgap=0, itemwidth=38,
                         font=dict(family="DejaVu Sans", size=13, color="black"))

fig.update_layout(width=W, height=H, margin=dict(l=0, r=0, t=0, b=0), paper_bgcolor="white",
                  plot_bgcolor="white", showlegend=True, **layout)
fig.write_html("out.html", config={"displayModeBar": False},
               post_script="document.body.style.margin='0';document.body.style.overflow='hidden';")
